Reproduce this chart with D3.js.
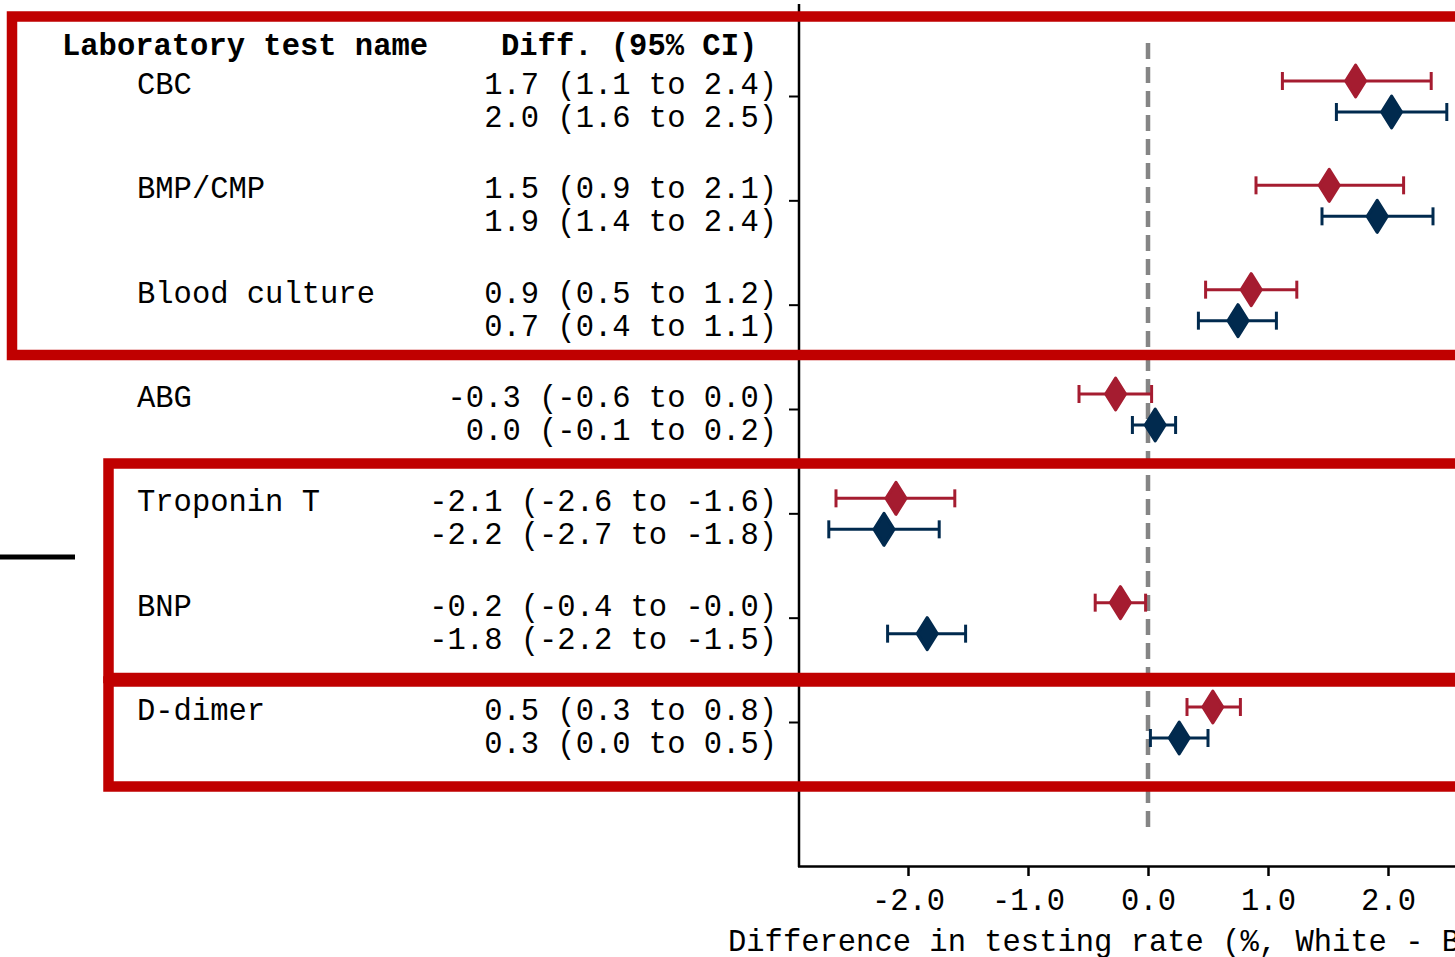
<!DOCTYPE html>
<html lang="en">
<head>
<meta charset="utf-8">
<title>forest plot</title>
<script src="https://d3js.org/d3.v7.min.js"></script>
<style>
  body{margin:0;background:#fff;}
  svg{display:block;font-family:"Liberation Mono","Cousine",monospace;}
  text{font-size:30.5px;fill:#000;}
</style>
</head>
<body>
<div id="chart"></div>
<script>
// lab tests, top to bottom
var tests = ["CBC","BMP/CMP","Blood culture","ABG","Troponin T","BNP","D-dimer"]

// first (red) series: point, lower, upper
var redEst = [1.73, 1.51, 0.86, -0.27, -2.10, -0.23, 0.54]
var redLo  = [1.12, 0.90, 0.48, -0.575, -2.60, -0.44, 0.325]
var redHi  = [2.36, 2.13, 1.24, 0.03, -1.61, -0.02, 0.77]
var redTxt = ["1.7 (1.1 to 2.4)","1.5 (0.9 to 2.1)","0.9 (0.5 to 1.2)","-0.3 (-0.6 to 0.0)",
              "-2.1 (-2.6 to -1.6)","-0.2 (-0.4 to -0.0)","0.5 (0.3 to 0.8)"]

// second (blue) series
var blueEst = [2.03, 1.91, 0.75, 0.06, -2.20, -1.84, 0.26]
var blueLo  = [1.57, 1.45, 0.42, -0.13, -2.66, -2.17, 0.02]
var blueHi  = [2.49, 2.375, 1.07, 0.23, -1.74, -1.52, 0.50]
var blueTxt = ["2.0 (1.6 to 2.5)","1.9 (1.4 to 2.4)","0.7 (0.4 to 1.1)","0.0 (-0.1 to 0.2)",
               "-2.2 (-2.7 to -1.8)","-1.8 (-2.2 to -1.5)","0.3 (0.0 to 0.5)"]

var xTicks = [-2, -1, 0, 1, 2]

var W = 1455, H = 957
var red = "#a51c30", blue = "#012a4e", boxRed = "#c00000"

var svg = d3.select("#chart").append("svg").attr("width", W).attr("height", H)

var x = d3.scaleLinear().domain([-2.9, 3.0]).range([800, 1508])
var y = d3.scaleLinear().domain([0, tests.length - 1]).range([96, 722])

// dashed reference line at 0
svg.append("line")
  .attr("x1", x(0)).attr("x2", x(0)).attr("y1", 43).attr("y2", 827)
  .attr("stroke", "#858585").attr("stroke-width", 4.5).attr("stroke-dasharray", "16,8")

// y axis (ticks only, no labels)
var yAxis = d3.axisLeft(y).tickValues(d3.range(tests.length)).tickSize(10).tickFormat("")
var gy = svg.append("g").attr("transform", "translate(799,0)").call(yAxis)
gy.select(".domain").remove()
gy.selectAll(".tick line").attr("stroke", "#000").attr("stroke-width", 2)
svg.append("line").attr("x1", 799).attr("x2", 799).attr("y1", 4).attr("y2", 867)
  .attr("stroke", "#000").attr("stroke-width", 2.5)

// x axis
var xAxis = d3.axisBottom(x).tickValues(xTicks).tickSize(10).tickPadding(12).tickFormat(d3.format(".1f"))
var gx = svg.append("g").attr("transform", "translate(0,866)").call(xAxis)
gx.select(".domain").remove()
gx.selectAll(".tick line").attr("stroke", "#000").attr("stroke-width", 2.5)
gx.selectAll(".tick text").attr("font-size", "30.5px").attr("font-family", "Liberation Mono").attr("fill", "#000")
  .text(function(d){ return d3.format(".1f")(d).replace("−", "-") })
svg.append("line").attr("x1", 798).attr("x2", W).attr("y1", 866.5).attr("y2", 866.5)
  .attr("stroke", "#000").attr("stroke-width", 2.5)

svg.append("text").attr("x", 728).attr("y", 951)
  .text("Difference in testing rate (%, White - Black)")

// headers
svg.append("text").attr("x", 62).attr("y", 55).attr("font-weight", "bold").text("Laboratory test name")
svg.append("text").attr("x", 501).attr("y", 55).attr("font-weight", "bold").text("Diff. (95% CI)")

// row labels
svg.selectAll(".name").data(tests).enter().append("text")
  .attr("class", "name").attr("x", 137).attr("y", function(d, i){ return y(i) - 2 })
  .text(function(d){ return d })
svg.selectAll(".rtxt").data(redTxt).enter().append("text")
  .attr("class", "rtxt").attr("x", 777).attr("text-anchor", "end")
  .attr("y", function(d, i){ return y(i) - 2 }).text(function(d){ return d })
svg.selectAll(".btxt").data(blueTxt).enter().append("text")
  .attr("class", "btxt").attr("x", 777).attr("text-anchor", "end")
  .attr("y", function(d, i){ return y(i) + 31 }).text(function(d){ return d })

// one series of CIs + diamonds
function drawSeries(est, lo, hi, off, col, cls){
  var g = svg.append("g").attr("class", cls)
  var rows = g.selectAll("g").data(est).enter().append("g")
  rows.append("line")
    .attr("x1", function(d, i){ return x(lo[i]) }).attr("x2", function(d, i){ return x(hi[i]) })
    .attr("y1", function(d, i){ return y(i) + off }).attr("y2", function(d, i){ return y(i) + off })
    .attr("stroke", col).attr("stroke-width", 3)
  rows.append("line")
    .attr("x1", function(d, i){ return x(lo[i]) }).attr("x2", function(d, i){ return x(lo[i]) })
    .attr("y1", function(d, i){ return y(i) + off - 9 }).attr("y2", function(d, i){ return y(i) + off + 9 })
    .attr("stroke", col).attr("stroke-width", 3)
  rows.append("line")
    .attr("x1", function(d, i){ return x(hi[i]) }).attr("x2", function(d, i){ return x(hi[i]) })
    .attr("y1", function(d, i){ return y(i) + off - 9 }).attr("y2", function(d, i){ return y(i) + off + 9 })
    .attr("stroke", col).attr("stroke-width", 3)
  rows.append("path")
    .attr("d", function(d, i){
      var cx = x(d), cy = y(i) + off
      return "M" + cx + "," + (cy - 16) + "L" + (cx + 10) + "," + cy + "L" + cx + "," + (cy + 16) + "L" + (cx - 10) + "," + cy + "Z"
    })
    .attr("fill", col).attr("stroke", col).attr("stroke-width", 3).attr("stroke-linejoin", "round")
}
drawSeries(redEst, redLo, redHi, -15, red, "red")
drawSeries(blueEst, blueLo, blueHi, 16, blue, "blue")

// highlight boxes
var boxes = [[12, 16.5, 355], [108.5, 463.5, 678], [108.5, 681.5, 786.5]]
svg.selectAll(".box").data(boxes).enter().append("rect")
  .attr("class", "box")
  .attr("x", function(d){ return d[0] }).attr("y", function(d){ return d[1] })
  .attr("width", function(d){ return W + 40 - d[0] }).attr("height", function(d){ return d[2] - d[1] })
  .attr("fill", "none").attr("stroke", boxRed).attr("stroke-width", 10.5)

// short black bar at left edge
svg.append("line").attr("x1", 0).attr("x2", 75).attr("y1", 557).attr("y2", 557)
  .attr("stroke", "#000").attr("stroke-width", 5)
</script>
</body>
</html>
